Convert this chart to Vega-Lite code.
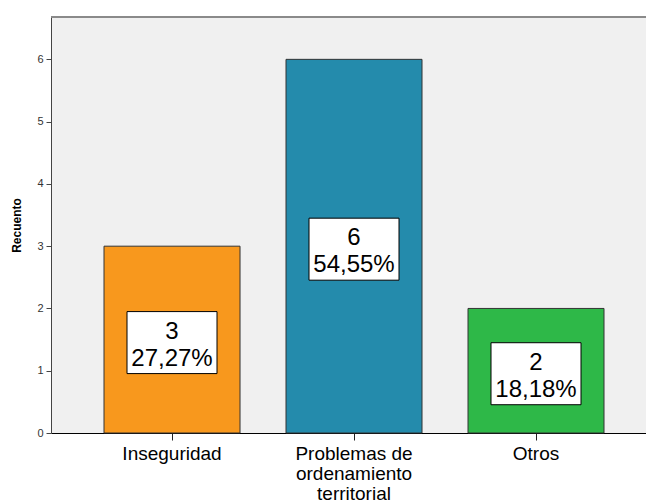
{
  "$schema": "https://vega.github.io/schema/vega-lite/v6.json",
  "autosize": {"type": "none"},
  "width": 595,
  "height": 416,
  "padding": {"left": 51, "top": 17, "right": 0, "bottom": 67},
  "background": "white",
  "config": {
    "view": {"stroke": null, "fill": "#f0f0f0"},
    "font": "Liberation Sans"
  },
  "data": {
    "values": [
      {"Categoria": "Inseguridad", "Recuento": 3, "Porcentaje": "27,27%"},
      {"Categoria": "Problemas de ordenamiento territorial", "Recuento": 6, "Porcentaje": "54,55%"},
      {"Categoria": "Otros", "Recuento": 2, "Porcentaje": "18,18%"}
    ]
  },
  "transform": [
    {"calculate": "datum.Recuento / 2", "as": "Medio"},
    {"calculate": "datum.Recuento + '\\n' + datum.Porcentaje", "as": "Etiqueta"}
  ],
  "encoding": {
    "x": {
      "field": "Categoria",
      "type": "nominal",
      "sort": null,
      "scale": {"paddingInner": 0.2527, "paddingOuter": 0.261, "align": 0.558},
      "axis": {
        "title": null,
        "labelAngle": 0,
        "labelFontSize": 19,
        "labelColor": "black",
        "labelLineHeight": 20,
        "labelPadding": 4,
        "tickSize": 7,
        "tickColor": "#222",
        "domainColor": "black",
        "labelExpr": "datum.label == 'Problemas de ordenamiento territorial' ? ['Problemas de', 'ordenamiento', 'territorial'] : datum.label"
      }
    }
  },
  "layer": [
    {
      "mark": {"type": "rule", "color": "#888888", "strokeWidth": 1.5},
      "encoding": {"x": null, "y": {"datum": 6.68, "type": "quantitative"}}
    },
    {
      "mark": {"type": "bar", "stroke": "#333333", "strokeWidth": 1},
      "encoding": {
        "y": {
          "field": "Recuento",
          "type": "quantitative",
          "scale": {"domain": [0, 6.68], "nice": false, "zero": true},
          "axis": {
            "title": "Recuento",
            "titleFontSize": 12,
            "titleFontWeight": "bold",
            "titleColor": "black",
            "titlePadding": 13,
            "values": [0, 1, 2, 3, 4, 5, 6],
            "format": "d",
            "labelFontSize": 11,
            "labelColor": "#333",
            "labelPadding": 3,
            "tickSize": 5,
            "tickColor": "#444",
            "domainColor": "#444",
            "grid": false
          }
        },
        "color": {
          "field": "Categoria",
          "type": "nominal",
          "scale": {
            "domain": ["Inseguridad", "Problemas de ordenamiento territorial", "Otros"],
            "range": ["#F8981D", "#248BAC", "#2EB848"]
          },
          "legend": null
        }
      }
    },
    {
      "mark": {
        "type": "point",
        "shape": "M-1,-0.689L1,-0.689L1,0.689L-1,0.689Z",
        "size": 8100,
        "filled": true,
        "fill": "white",
        "stroke": "black",
        "strokeWidth": 1,
        "opacity": 1,
        "yOffset": 3
      },
      "encoding": {
        "y": {"field": "Medio", "type": "quantitative"}
      }
    },
    {
      "mark": {
        "type": "text",
        "fontSize": 24,
        "lineBreak": "\n",
        "lineHeight": 27,
        "baseline": "middle",
        "align": "center",
        "color": "black",
        "yOffset": -8
      },
      "encoding": {
        "y": {"field": "Medio", "type": "quantitative"},
        "text": {"field": "Etiqueta", "type": "nominal"}
      }
    }
  ]
}
